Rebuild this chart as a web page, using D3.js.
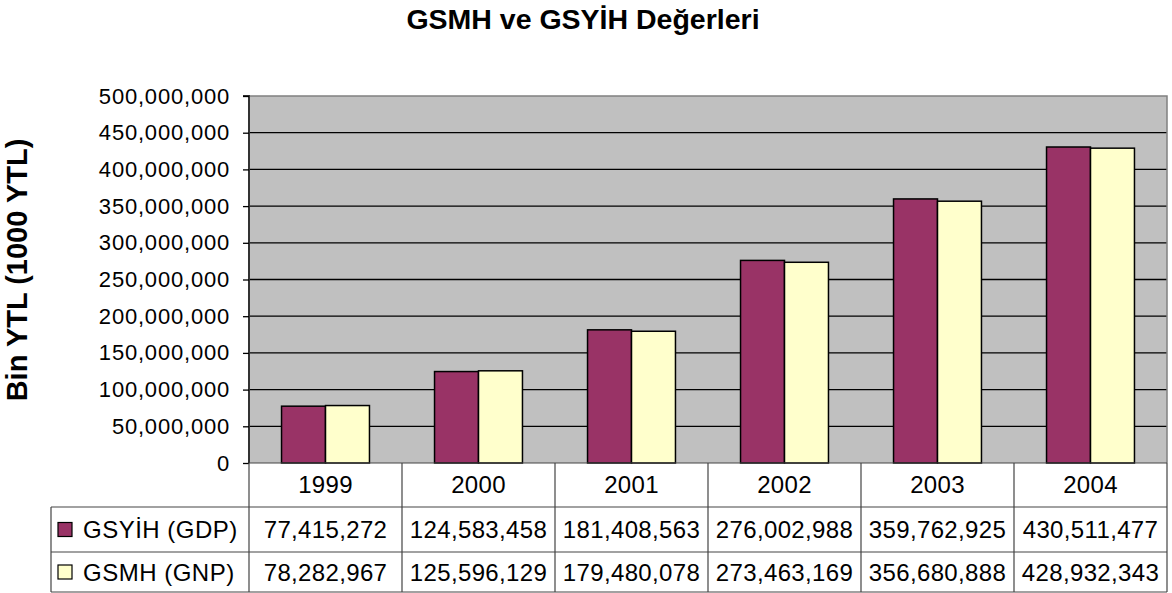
<!DOCTYPE html>
<html>
<head>
<meta charset="utf-8">
<script src="https://cdn.jsdelivr.net/npm/d3@7"></script>
<style>
  body { margin: 0; background: #fff; }
  svg { display: block; font-family: "Liberation Sans", Arial, sans-serif; }
</style>
</head>
<body>
<div id="chart"></div>
<script>
// chart data
const years = ["1999", "2000", "2001", "2002", "2003", "2004"];
const seriesNames = ["GSYİH (GDP)", "GSMH (GNP)"];
const gdpValues = [77415272, 124583458, 181408563, 276002988, 359762925, 430511477];
const gnpValues = [78282967, 125596129, 179480078, 273463169, 356680888, 428932343];
const seriesColors = ["#993366", "#FFFFCC"];
const yTicks = [0, 50e6, 100e6, 150e6, 200e6, 250e6, 300e6, 350e6, 400e6, 450e6, 500e6];

const width = 1172, height = 593;
const plot = { left: 249, right: 1167, top: 96, bottom: 463 };
const rowH = [44, 45, 40]; // year row, gdp row, gnp row
const tableLeft = 51;

const seriesValues = [gdpValues, gnpValues];

const svg = d3.select("#chart").append("svg")
    .attr("width", width)
    .attr("height", height);

const x = d3.scaleBand()
    .domain(years)
    .range([plot.left, plot.right])
    .paddingInner(0)
    .paddingOuter(0);

const x1 = d3.scaleBand()
    .domain(seriesNames)
    .range([0, x.bandwidth()])
    .paddingInner(0)
    .paddingOuter(0.74);

const y = d3.scaleLinear()
    .domain([0, 500e6])
    .range([plot.bottom, plot.top]);

// plot background
svg.append("rect")
    .attr("x", plot.left)
    .attr("y", plot.top)
    .attr("width", plot.right - plot.left)
    .attr("height", plot.bottom - plot.top)
    .attr("fill", "#C0C0C0")
    .attr("stroke", "none");

// grid lines
svg.append("g")
    .selectAll("line")
    .data(yTicks.filter(d => d > 0 && d < 500e6))
    .join("line")
        .attr("x1", plot.left)
        .attr("x2", plot.right)
        .attr("y1", d => y(d))
        .attr("y2", d => y(d))
        .attr("stroke", "#000")
        .attr("stroke-width", 1.3);

// top and right border
svg.append("path")
    .attr("d", `M${plot.left},${plot.top}H${plot.right}V${plot.bottom}`)
    .attr("fill", "none")
    .attr("stroke", "#808080")
    .attr("stroke-width", 1.5);

// bars
const groups = svg.append("g")
    .selectAll("g")
    .data(years)
    .join("g")
        .attr("transform", d => `translate(${x(d)},0)`);

groups.selectAll("rect")
    .data((yr, i) => seriesNames.map((s, j) => ({ name: s, value: seriesValues[j][i], j })))
    .join("rect")
        .attr("x", d => x1(d.name))
        .attr("width", x1.bandwidth())
        .attr("y", d => y(d.value))
        .attr("height", d => y(0) - y(d.value))
        .attr("fill", d => seriesColors[d.j])
        .attr("stroke", "#000")
        .attr("stroke-width", 1.5);

// y axis
const yAxis = svg.append("g")
    .attr("transform", `translate(${plot.left},0)`)
    .call(d3.axisLeft(y).tickValues(yTicks).tickSize(6).tickPadding(13).tickFormat(d3.format(",")));
yAxis.select(".domain")
    .attr("stroke", "#333")
    .attr("stroke-width", 2)
    .attr("d", `M-6,${plot.top}H0V${plot.bottom}`);
yAxis.selectAll(".tick line").attr("stroke", "#000").attr("stroke-width", 1.3);
yAxis.selectAll(".tick text")
    .attr("font-size", 22)
    .attr("letter-spacing", "0.8px")
    .attr("font-family", "Liberation Sans, Arial, sans-serif")
    .attr("fill", "#000");

// title
svg.append("text")
    .attr("x", 583)
    .attr("y", 29)
    .attr("text-anchor", "middle")
    .attr("font-size", 28.5)
    .attr("font-weight", "bold")
    .text("GSMH ve GSYİH Değerleri");

// y axis title
svg.append("text")
    .attr("transform", `translate(27,270) rotate(-90)`)
    .attr("text-anchor", "middle")
    .attr("font-size", 29)
    .attr("font-weight", "bold")
    .text("Bin YTL (1000 YTL)");

// data table
const rowTop = [plot.bottom, plot.bottom + rowH[0], plot.bottom + rowH[0] + rowH[1]];
const tableBottom = rowTop[2] + rowH[2];
const table = svg.append("g");

// horizontal lines
table.selectAll("line.h")
    .data([
        { x1: plot.left, y: plot.bottom },
        { x1: tableLeft, y: rowTop[1] },
        { x1: tableLeft, y: rowTop[2] },
        { x1: tableLeft, y: tableBottom }
    ])
    .join("line")
        .attr("class", "h")
        .attr("x1", d => d.x1)
        .attr("x2", plot.right)
        .attr("y1", d => d.y)
        .attr("y2", d => d.y)
        .attr("stroke", "#444")
        .attr("stroke-width", 1.2);

// vertical lines
table.selectAll("line.v")
    .data(years.map(d => x(d)).concat([plot.right]))
    .join("line")
        .attr("class", "v")
        .attr("x1", d => d)
        .attr("x2", d => d)
        .attr("y1", plot.bottom)
        .attr("y2", tableBottom)
        .attr("stroke", "#444")
        .attr("stroke-width", 1.2);
table.append("line")
    .attr("x1", tableLeft).attr("x2", tableLeft)
    .attr("y1", rowTop[1]).attr("y2", tableBottom)
    .attr("stroke", "#444").attr("stroke-width", 1.2);

// year labels
table.selectAll("text.year")
    .data(years)
    .join("text")
        .attr("class", "year")
        .attr("x", d => x(d) + x.bandwidth() / 2)
        .attr("y", rowTop[0] + rowH[0] / 2 + 8)
        .attr("text-anchor", "middle")
        .attr("font-size", 24)
        .attr("letter-spacing", "0.3px")
        .text(d => d);

// value rows
const fmt = d3.format(",");
seriesValues.forEach((vals, j) => {
    const cy = rowTop[j + 1] + rowH[j + 1] / 2;
    table.append("g")
        .selectAll("text")
        .data(vals)
        .join("text")
            .attr("x", (d, i) => x(years[i]) + x.bandwidth() / 2)
            .attr("y", cy + 8.5)
            .attr("text-anchor", "middle")
            .attr("font-size", 24)
            .attr("letter-spacing", "0.35px")
            .text(d => fmt(d));

    table.append("rect")
        .attr("x", 58)
        .attr("y", cy - 7)
        .attr("width", 14)
        .attr("height", 14)
        .attr("fill", seriesColors[j])
        .attr("stroke", "#000")
        .attr("stroke-width", 1.2);
    table.append("text")
        .attr("x", 83)
        .attr("y", cy + 8.5)
        .attr("font-size", 24)
        .attr("letter-spacing", "0.5px")
        .text(seriesNames[j]);
});
</script>
</body>
</html>
